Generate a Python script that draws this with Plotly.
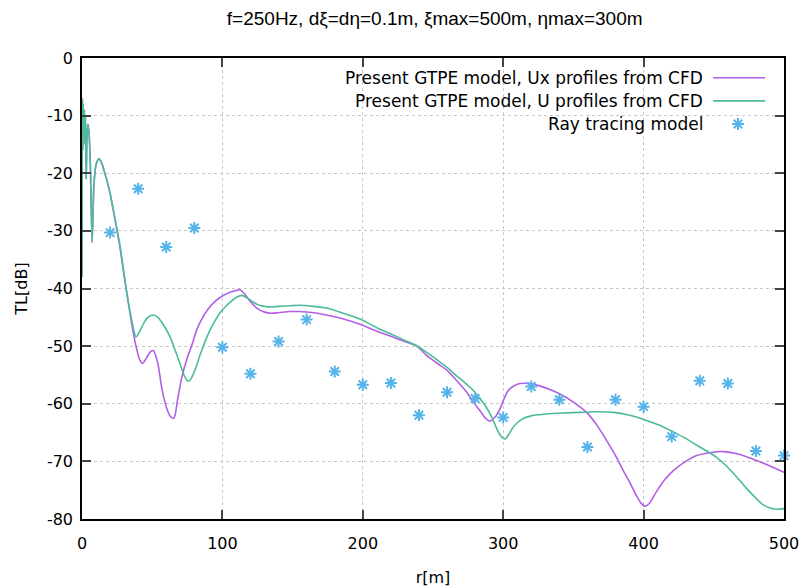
import plotly.graph_objects as go

# ---------------- data ----------------
r_ux = [0, 0.3, 0.6, 0.9, 1.3, 1.7, 2.1, 2.5, 3.0, 3.5, 4.2, 5.0, 6.0, 7.2, 8.5, 10, 12, 14, 16, 18,
        20, 22.3, 25, 27, 30, 32, 35, 38, 41, 43.2, 46, 49, 51, 54, 57, 60, 63, 65.5, 68, 71,
        75, 78, 82, 86, 90, 95, 100, 105, 109, 112.5, 116, 120, 125, 130, 135, 140, 148, 155, 165, 174,
        185, 198, 210, 220, 230, 238, 245, 252, 260, 267, 274, 279, 283.5, 287, 290.6, 294, 297.7, 300.5,
        303.6, 307, 312, 319, 326, 335, 342.8, 351, 359.4, 367, 373.7, 380, 385.5, 390, 395, 398, 401,
        404, 409.3, 415, 421.2, 430, 437.8, 447, 456.8, 465, 473.4, 482, 490, 500]
tl_ux = [-38, -7, -16, -8, -15, -9, -14, -10, -21, -14, -11.5, -13, -19, -32, -22, -18.5, -17.5, -18.2, -19.8, -21.5,
         -23.5, -26.5, -30, -32.8, -37.8, -41, -45.5, -49.5, -52.3, -53, -52, -50.9, -50.8, -53, -57.5, -60.5, -62.2, -62.5, -59.4, -55.5,
         -52, -50, -47, -45, -43.5, -42.2, -41.3, -40.7, -40.4, -40.2, -41, -42.3, -43.5, -44.1, -44.3, -44.2, -44, -44, -44.2, -44.6,
         -45.2, -46.2, -47.4, -48.3, -49.2, -49.9, -51.5, -52.8, -54.2, -56, -58, -59.8, -61.2, -62.4, -63, -62.4, -60.9, -59.2,
         -57.7, -57, -56.5, -56.5, -56.9, -57.7, -58.6, -59.9, -61.5, -63.8, -66.4, -69, -71.6, -73.6, -76, -77.2, -77.8,
         -77.3, -75.2, -73.2, -71.6, -70, -69, -68.5, -68.3, -68.6, -69.2, -70, -70.8, -71.9]

r_u = [0, 0.3, 0.6, 0.9, 1.3, 1.7, 2.1, 2.5, 3.0, 3.5, 4.2, 5.0, 6.0, 7.2, 8.5, 10, 12, 14, 16, 18,
       20, 22.3, 25, 27, 30, 32, 35, 38.5, 41, 44, 47, 50.8, 54, 58, 62.7, 66, 69.8, 73, 75.7, 78,
       81, 84, 88, 91, 95, 98.3, 102, 105.4, 109, 113.7, 118, 125, 130, 135, 140, 148, 155, 165, 174, 185,
       198, 210, 220, 230, 238, 245, 252, 260, 267, 272, 278.7, 284, 288, 292, 295, 298, 301.3, 304,
       307, 310, 314, 320, 326, 335, 342.8, 355, 365, 378.4, 390, 401, 411, 421.2, 430, 437.8, 445, 452,
       459, 466.3, 473, 480.5, 485, 490, 495, 500]
tl_u = [-38, -7, -16, -8, -15, -9, -14, -10, -21, -14, -11.5, -13, -19, -32, -22, -18.5, -17.5, -18.2, -19.8, -21.5,
        -23.5, -26.3, -29.8, -32.5, -37.5, -40.8, -45, -48.4, -47.5, -46, -45, -44.6, -45, -46.3, -48.4, -50.5, -53, -55.2, -56.1, -55.5,
        -53.8, -51.6, -49, -47.3, -45.5, -44.2, -43.2, -42.4, -41.7, -41.2, -41.7, -42.8, -43.1, -43.2, -43.1, -43, -42.9, -43.1, -43.4, -44.2,
        -45.3, -46.8, -47.9, -49, -49.9, -51, -52.2, -53.7, -55.2, -56.2, -57.7, -59.3, -60.6, -62.4, -64.1, -65.5, -66.1, -65.3,
        -64.1, -63.3, -62.6, -62.1, -61.9, -61.7, -61.6, -61.5, -61.4, -61.5, -62, -62.8, -63.7, -64.9, -66, -67.2, -68.2, -69.3,
        -70.8, -72.7, -74.6, -76.5, -77.5, -78.1, -78.3, -78.2]

r_ray = [20, 40, 60, 80, 100, 120, 140, 160, 180, 200, 220, 240, 260, 280, 300, 320, 340, 360, 380,
         400, 420, 440, 460, 480, 500]
tl_ray = [-30.3, -22.7, -32.8, -29.5, -50.2, -54.8, -49.2, -45.4, -54.4, -56.7, -56.4, -62.0, -58.0, -59.1,
          -62.4, -57.0, -59.3, -67.5, -59.3, -60.5, -65.7, -56.0, -56.5, -68.2, -69.0]

labels = ["Present GTPE model, Ux profiles from CFD",
          "Present GTPE model, U profiles from CFD",
          "Ray tracing model"]
title_text = "f=250Hz, d\u03be=d\u03b7=0.1m, \u03bemax=500m, \u03b7max=300m"
x_ticks = [0, 100, 200, 300, 400, 500]
x_ticktext = ["0", "100", "200", "300", "400", "500"]
y_ticks = [0, -10, -20, -30, -40, -50, -60, -70, -80]
y_ticktext = ["0", "-10", "-20", "-30", "-40", "-50", "-60", "-70", "-80"]

# ---------------- style ----------------
C_UX = "#b25ee6"
C_U = "#4cbc98"
C_RAY = "#56b4e9"
FONT = "DejaVu Sans"

fig = go.Figure()
fig.add_trace(go.Scatter(x=r_ux, y=tl_ux, mode="lines",
                         line=dict(color=C_UX, width=1.6, shape="spline", smoothing=0.7),
                         name=labels[0], showlegend=False))
fig.add_trace(go.Scatter(x=r_u, y=tl_u, mode="lines",
                         line=dict(color=C_U, width=1.6, shape="spline", smoothing=0.7),
                         name=labels[1], showlegend=False))
fig.add_trace(go.Scatter(x=r_ray, y=tl_ray, mode="markers",
                         marker=dict(symbol="asterisk-open", size=10, color=C_RAY,
                                     line=dict(color=C_RAY, width=2)),
                         name=labels[2], showlegend=False, cliponaxis=False))

# legend key marker on an overlay axis (paper-like)
fig.add_trace(go.Scatter(x=[0.9345], y=[0.857], mode="markers", xaxis="x2", yaxis="y2",
                         marker=dict(symbol="asterisk-open", size=10, color=C_RAY,
                                     line=dict(color=C_RAY, width=2)),
                         showlegend=False, hoverinfo="skip"))

axis_common = dict(showline=True, linecolor="#000000", linewidth=1.5, mirror="ticks",
                   ticks="inside", ticklen=9, tickwidth=1.5, tickcolor="#444444",
                   showgrid=True, gridcolor="#c8c8c8", griddash="dot", gridwidth=1,
                   zeroline=False, automargin=False,
                   tickfont=dict(family=FONT, size=16, color="#000000"))

fig.update_layout(
    width=805, height=587,
    margin=dict(l=82, r=21, t=58, b=68, autoexpand=False),
    paper_bgcolor="white", plot_bgcolor="white",
    title=dict(text=title_text, x=0.54, xanchor="center", y=0.968, yanchor="middle",
               font=dict(family="Liberation Sans", size=19, color="#000000")),
    xaxis=dict(range=[0, 500], tickvals=x_ticks, ticktext=x_ticktext, ticklabelstandoff=9,
               title=dict(text="r[m]", font=dict(family=FONT, size=16, color="#000000"), standoff=20),
               **axis_common),
    yaxis=dict(range=[-80, 0], tickvals=y_ticks, ticktext=y_ticktext, ticklabelstandoff=4,
               title=dict(text="TL[dB]", font=dict(family=FONT, size=16, color="#000000"), standoff=15),
               **axis_common),
    xaxis2=dict(range=[0, 1], overlaying="x", visible=False, fixedrange=True),
    yaxis2=dict(range=[0, 1], overlaying="y", visible=False, fixedrange=True),
    showlegend=False,
)

# legend text and line samples
leg_y = [0.957, 0.907, 0.857]
for i, lab in enumerate(labels):
    fig.add_annotation(text=lab, xref="paper", yref="paper", x=0.8875, y=leg_y[i],
                       xanchor="right", yanchor="middle", showarrow=False,
                       font=dict(family=FONT, size=17, color="#000000"))
fig.add_shape(type="line", xref="paper", yref="paper", x0=0.899, x1=0.973, y0=leg_y[0], y1=leg_y[0],
              line=dict(color=C_UX, width=1.6))
fig.add_shape(type="line", xref="paper", yref="paper", x0=0.899, x1=0.973, y0=leg_y[1], y1=leg_y[1],
              line=dict(color=C_U, width=1.6))

fig.write_html("out.html")
